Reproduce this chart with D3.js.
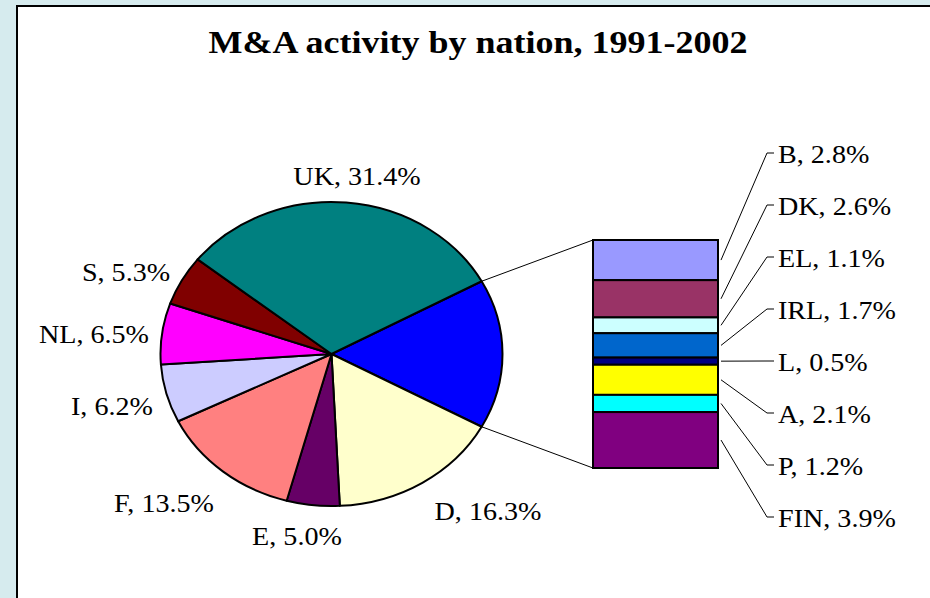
<!DOCTYPE html>
<html>
<head>
<meta charset="utf-8">
<script src="https://cdn.jsdelivr.net/npm/d3@7"></script>
<style>
  body { margin: 0; background: #d6ebee; }
  svg { display: block; }
  text { font-family: 'Liberation Serif', 'Times New Roman', serif; fill: #000; }
</style>
</head>
<body>
<div id="graf"></div>
<script>
// Datos
titulo = 'M&A activity by nation, 1991-2002'

pieNombres = ['D', 'E', 'F', 'I', 'NL', 'S', 'UK']
pieValores = [16.3, 5.0, 13.5, 6.2, 6.5, 5.3, 31.4]
pieColores = ['#ffffcc', '#660066', '#ff8080', '#ccccff', '#ff00ff', '#800000', '#008080']

barNombres = ['B', 'DK', 'EL', 'IRL', 'L', 'A', 'P', 'FIN']
barValores = [2.8, 2.6, 1.1, 1.7, 0.5, 2.1, 1.2, 3.9]
barColores = ['#9999ff', '#993366', '#ccffff', '#0066cc', '#000080', '#ffff00', '#00ffff', '#800080']

otrosColor = '#0000ff'

// Configuracion de tamano
ancho = 930
alto = 598
estirar = 1.125   // el grafico original esta estirado en horizontal

svg = d3.select('#graf').append('svg')
  .attr('width', ancho)
  .attr('height', alto)

svg.append('rect')
  .attr('x', 17).attr('y', 6)
  .attr('width', ancho).attr('height', alto)
  .attr('fill', '#fff')
  .attr('stroke', '#000')
  .attr('stroke-width', 2)

function texto(x, y, t, size, anchor, bold) {
  return svg.append('text')
    .attr('transform', `translate(${x}, ${y}) scale(${estirar}, 1)`)
    .attr('text-anchor', anchor)
    .style('font-size', size + 'px')
    .style('font-weight', bold ? 'bold' : 'normal')
    .text(t)
}

texto(478, 53, titulo, 32, 'middle', true)

// Pie (elipse)
cx = 331.5
cy = 354
rx = 171
ry = 152

otros = d3.sum(barValores)
pieData = [{ n: 'Otros', v: otros, c: otrosColor }]
  .concat(pieNombres.map((n, i) => ({ n: n, v: pieValores[i], c: pieColores[i] })))
total = d3.sum(pieData, d => d.v)
angOtros = 2 * Math.PI * otros / total

pie = d3.pie()
  .sort(null)
  .value(d => d.v)
  .startAngle(Math.PI / 2 - angOtros / 2)
  .endAngle(Math.PI / 2 - angOtros / 2 + 2 * Math.PI)

arc = d3.arc().innerRadius(0).outerRadius(rx)

gPie = svg.append('g')
  .attr('transform', `translate(${cx}, ${cy}) scale(1, ${ry / rx})`)

arcos = pie(pieData)
gPie.selectAll('path')
  .data(arcos)
  .enter()
  .append('path')
  .attr('d', arc)
  .attr('fill', d => d.data.c)
  .attr('stroke', '#000')
  .attr('stroke-width', 2)
  .attr('stroke-linejoin', 'round')
  .attr('vector-effect', 'non-scaling-stroke')

function puntoElipse(a) {
  return [cx + rx * Math.sin(a), cy - ry * Math.cos(a)]
}

// etiquetas del pie (posiciones de layout)
posEtiquetas = {
  UK: [357, 185], S: [126, 281], NL: [94, 343], I: [112, 415],
  F: [164, 512], E: [297, 545], D: [488, 520]
}
pieNombres.forEach((n, i) => {
  p = posEtiquetas[n]
  texto(p[0], p[1], `${n}, ${pieValores[i].toFixed(1)}%`, 25, 'middle', false)
})

// Barra
barX0 = 593
barX1 = 718
yBar = d3.scaleLinear()
  .domain([0, otros])
  .range([240, 468])

acum = d3.cumsum(barValores)
barData = barNombres.map((n, i) => ({ n: n, v: barValores[i], c: barColores[i], y0: acum[i] - barValores[i], y1: acum[i] }))

// lineas de conexion
oArc = arcos[0]
pA = puntoElipse(oArc.startAngle)
pB = puntoElipse(oArc.endAngle)
svg.append('line')
  .attr('x1', pA[0]).attr('y1', pA[1])
  .attr('x2', barX0).attr('y2', yBar(0))
  .attr('stroke', '#000').attr('stroke-width', 1)
svg.append('line')
  .attr('x1', pB[0]).attr('y1', pB[1])
  .attr('x2', barX0).attr('y2', yBar(otros))
  .attr('stroke', '#000').attr('stroke-width', 1)

svg.append('g').selectAll('rect')
  .data(barData)
  .enter()
  .append('rect')
  .attr('x', barX0)
  .attr('y', d => yBar(d.y0))
  .attr('width', barX1 - barX0)
  .attr('height', d => yBar(d.y1) - yBar(d.y0))
  .attr('fill', d => d.c)
  .attr('stroke', '#000')
  .attr('stroke-width', 2)

// etiquetas de la barra con lineas guia
yEtiq = d3.scalePoint()
  .domain(barNombres)
  .range([163, 527])

barData.forEach(d => {
  yl = yEtiq(d.n) - 10
  ym = yBar((d.y0 + d.y1) / 2)
  svg.append('polyline')
    .attr('points', `${barX1 + 3},${ym} ${767},${yl} ${774},${yl}`)
    .attr('fill', 'none')
    .attr('stroke', '#000')
    .attr('stroke-width', 1)
  texto(778, yEtiq(d.n), `${d.n}, ${d.v.toFixed(1)}%`, 25, 'start', false)
})
</script>
</body>
</html>
